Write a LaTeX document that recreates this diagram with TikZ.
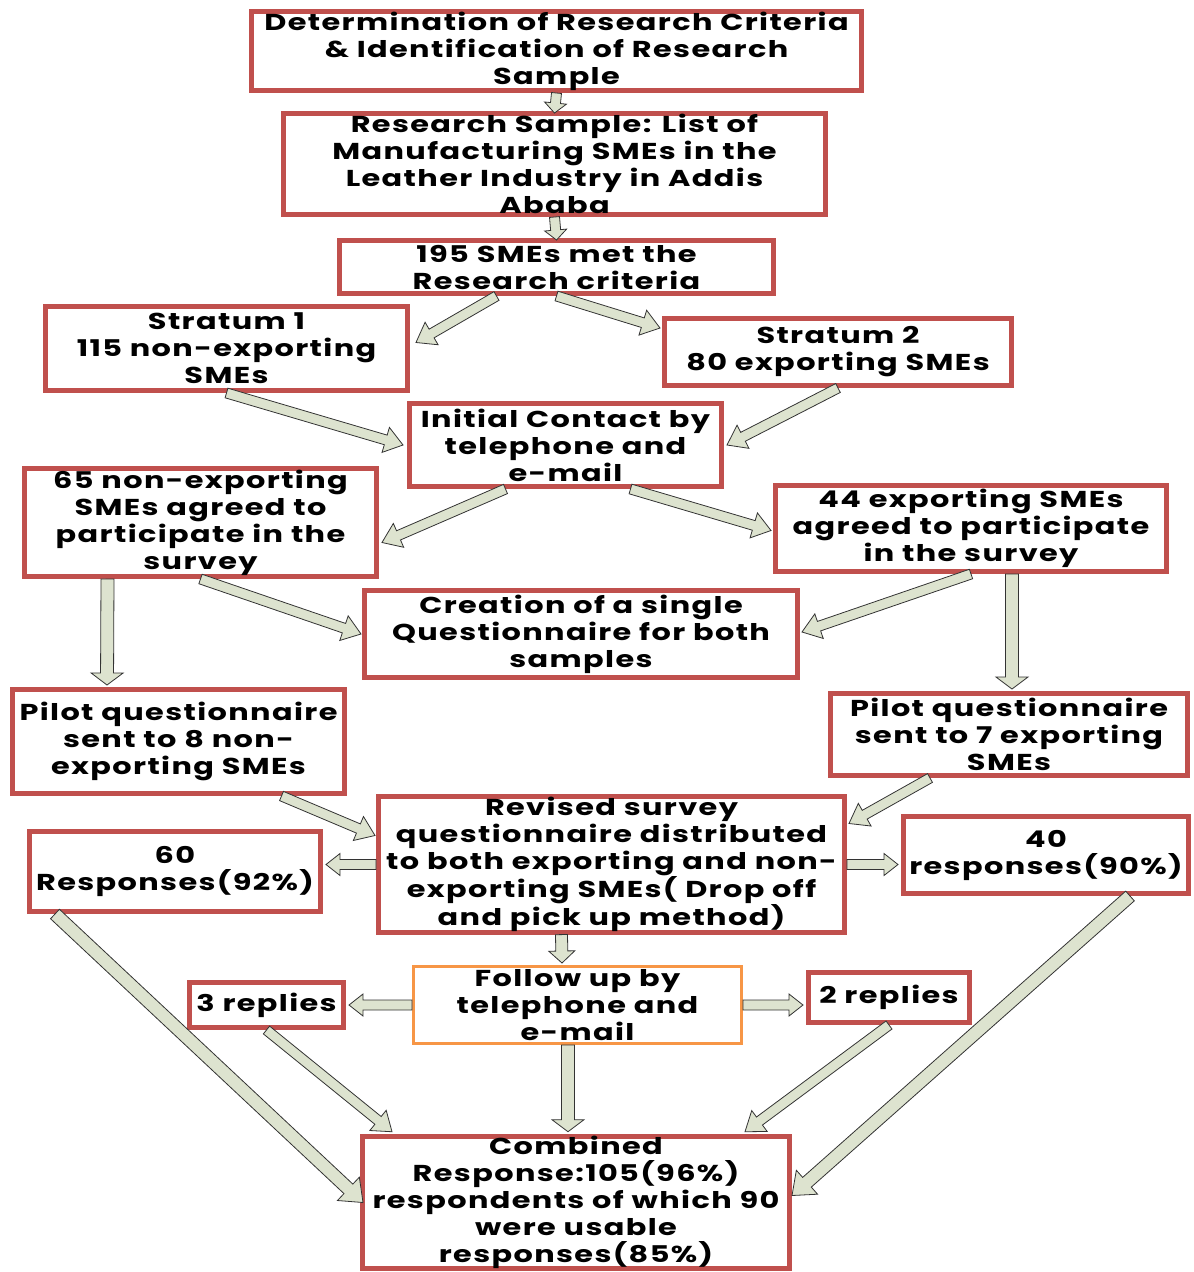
\documentclass[tikz,border=0pt]{standalone}
\usepackage{fontspec}
\setmainfont{Poppins}[BoldFont={* Bold}, FakeStretch=1.32, LetterSpace=6]
\usetikzlibrary{calc}
\definecolor{boxred}{HTML}{C0504D}
\definecolor{boxorange}{HTML}{F79646}
\definecolor{arrowfill}{HTML}{DDE3CF}
\tikzset{
  box/.style={draw=boxred, line width=5pt, fill=white, rectangle, inner sep=0pt,
    align=center, font=\bfseries\fontsize{23}{27}\selectfont},
  obox/.style={box, draw=boxorange, line width=3pt},
  arrowbody/.style={draw=black!80, line width=0.8pt, fill=arrowfill, line join=miter},
}
% block arrow: [head half-width]{start}{end}, shaft half-width and head length set below
\newcommand\shafthw{5pt}
\newcommand\headlen{16pt}
\newcommand\barrow[3][13pt]{%
  \coordinate (bas) at #2;
  \coordinate (bae) at #3;
  \coordinate (bac) at ($(bae)!\headlen!(bas)$);
  \draw[arrowbody] ($(bas)!\shafthw!90:(bae)$) -- ($(bac)!\shafthw!90:(bae)$)
    -- ($(bac)!#1!90:(bae)$) -- (bae) -- ($(bac)!#1!-90:(bae)$)
    -- ($(bac)!\shafthw!-90:(bae)$) -- ($(bas)!\shafthw!-90:(bae)$) -- cycle;}
\begin{document}
\begin{tikzpicture}[x=1pt, y=-1pt]
\useasboundingbox (0,0) rectangle (1194,1272);

\node[box, minimum width=610pt, minimum height=79pt] (crit) at (556.5,51)
  {Determination of Research Criteria\\ \& Identification of Research\\ Sample};
\node[box, minimum width=542pt, minimum height=101pt] (sample) at (554.5,164)
  {Research Sample: List of\\ Manufacturing SMEs in the\\ Leather Industry in Addis\\ Ababa};
\node[box, minimum width=434pt, minimum height=53pt] (met) at (556.5,267)
  {195 SMEs met the\\ Research criteria};
\node[box, minimum width=362pt, minimum height=84pt] (str1) at (226.5,348.5)
  {Stratum 1\\ 115 non-exporting\\ SMEs};
\node[box, minimum width=347pt, minimum height=67pt] (str2) at (838,352)
  {Stratum 2\\ 80 exporting SMEs};
\node[box, minimum width=312pt, minimum height=83pt] (contact) at (565.5,445)
  {Initial Contact by\\ telephone and\\ e-mail};
\node[box, minimum width=352pt, minimum height=108pt] (agree1) at (200.5,522.5)
  {65 non-exporting\\ SMEs agreed to\\ participate in the\\ survey};
\node[box, minimum width=391pt, minimum height=86pt] (agree2) at (971,528.5)
  {44 exporting SMEs\\ agreed to participate\\ in the survey};
\node[box, minimum width=433pt, minimum height=87pt] (quest) at (581,634)
  {Creation of a single\\ Questionnaire for both\\ samples};
\node[box, minimum width=332pt, minimum height=104pt] (pilot1) at (178.5,741.5)
  {Pilot questionnaire\\ sent to 8 non-\\ exporting SMEs};
\node[box, minimum width=357pt, minimum height=82pt] (pilot2) at (1009,734.5)
  {Pilot questionnaire\\ sent to 7 exporting\\ SMEs};
\node[box, minimum width=466pt, minimum height=132pt] (revised) at (611.5,864.5)
  {Revised survey\\ questionnaire distributed\\ to both exporting and non-\\ exporting SMEs( Drop off\\ and pick up method)};
\node[box, minimum width=291pt, minimum height=80pt] (resp1) at (175,871.5)
  {60\\ Responses(92\%)};
\node[box, minimum width=285pt, minimum height=77pt] (resp2) at (1046,855)
  {40\\ responses(90\%)};
\node[obox, minimum width=328pt, minimum height=77pt] (follow) at (577.5,1005)
  {Follow up by\\ telephone and\\ e-mail};
\node[box, minimum width=154pt, minimum height=45pt] (rep1) at (266.5,1005)
  {3 replies};
\node[box, minimum width=161pt, minimum height=50pt] (rep2) at (889,997.5)
  {2 replies};
\node[box, minimum width=427pt, minimum height=130pt] (comb) at (576,1202.5)
  {Combined\\ Response:105(96\%)\\ respondents of which 90\\ were usable\\ responses(85\%)};

% short links down the top of the chart
\renewcommand\headlen{10pt}
\barrow[11pt]{(crit.south)}{([yshift=-2pt]sample.north)}
\barrow[11pt]{(sample.south)}{([yshift=-2pt]met.north)}

% diagonal links
\renewcommand\headlen{18pt}
\barrow{([xshift=-60pt]met.south)}{([xshift=6pt,yshift=6pt]str1.east)}
\barrow{([xshift=0pt]met.south)}{([xshift=-2pt,yshift=24pt]str2.west)}
\barrow{(str1.south)}{([xshift=-4pt]contact.west)}
\barrow{(str2.south)}{([xshift=3pt]contact.east)}
\barrow{([xshift=-60pt]contact.south)}{([xshift=3pt,yshift=-20pt]agree1.east)}
\barrow{([xshift=65pt]contact.south)}{([xshift=-2pt,yshift=-2pt]agree2.west)}
\barrow{(agree1.south)}{([xshift=-1pt]quest.west)}
\barrow{(agree2.south)}{([xshift=2pt,yshift=2pt]quest.east)}
\barrow{([xshift=103pt]pilot1.south)}{([xshift=-1pt,yshift=29pt]revised.west)}
\barrow{([xshift=-79pt]pilot2.south)}{([xshift=2pt,yshift=41pt]revised.east)}
\barrow{(rep1.south)}{([xshift=32pt,yshift=2pt]comb.north west)}
\barrow{(rep2.south)}{([xshift=-47pt,yshift=2pt]comb.north east)}

% long diagonal links into the combined response
\renewcommand\shafthw{6.5pt}
\renewcommand\headlen{20pt}
\barrow[16pt]{([xshift=28pt]resp1.south west)}{([xshift=3pt]comb.west)}
\barrow[16pt]{([xshift=84pt]resp2.south)}{([yshift=7pt]comb.east)}

% vertical links
\renewcommand\shafthw{6.5pt}
\renewcommand\headlen{12pt}
\barrow[16pt]{([xshift=-93pt]agree1.south)}{([xshift=-71.5pt,yshift=2pt]pilot1.north)}
\barrow[16pt]{([xshift=41pt]agree2.south)}{([xshift=3pt,yshift=2pt]pilot2.north)}
\barrow[16pt]{([xshift=-9.5pt]follow.south)}{([xshift=-8pt,yshift=2pt]comb.north)}
\renewcommand\shafthw{6pt}
\barrow[13pt]{([xshift=-50pt]revised.south)}{([xshift=-15.5pt,yshift=2pt]follow.north)}

% horizontal links
\renewcommand\shafthw{5pt}
\renewcommand\headlen{14pt}
\barrow[11pt]{(revised.west)}{($(revised.west -| resp1.east)+(3,0)$)}
\barrow[11pt]{(revised.east)}{($(revised.east -| resp2.west)+(-3,0)$)}
\barrow[11pt]{(follow.west)}{($(follow.west -| rep1.east)+(3,0)$)}
\barrow[11pt]{(follow.east)}{($(follow.east -| rep2.west)+(-3,0)$)}
\end{tikzpicture}
\end{document}
